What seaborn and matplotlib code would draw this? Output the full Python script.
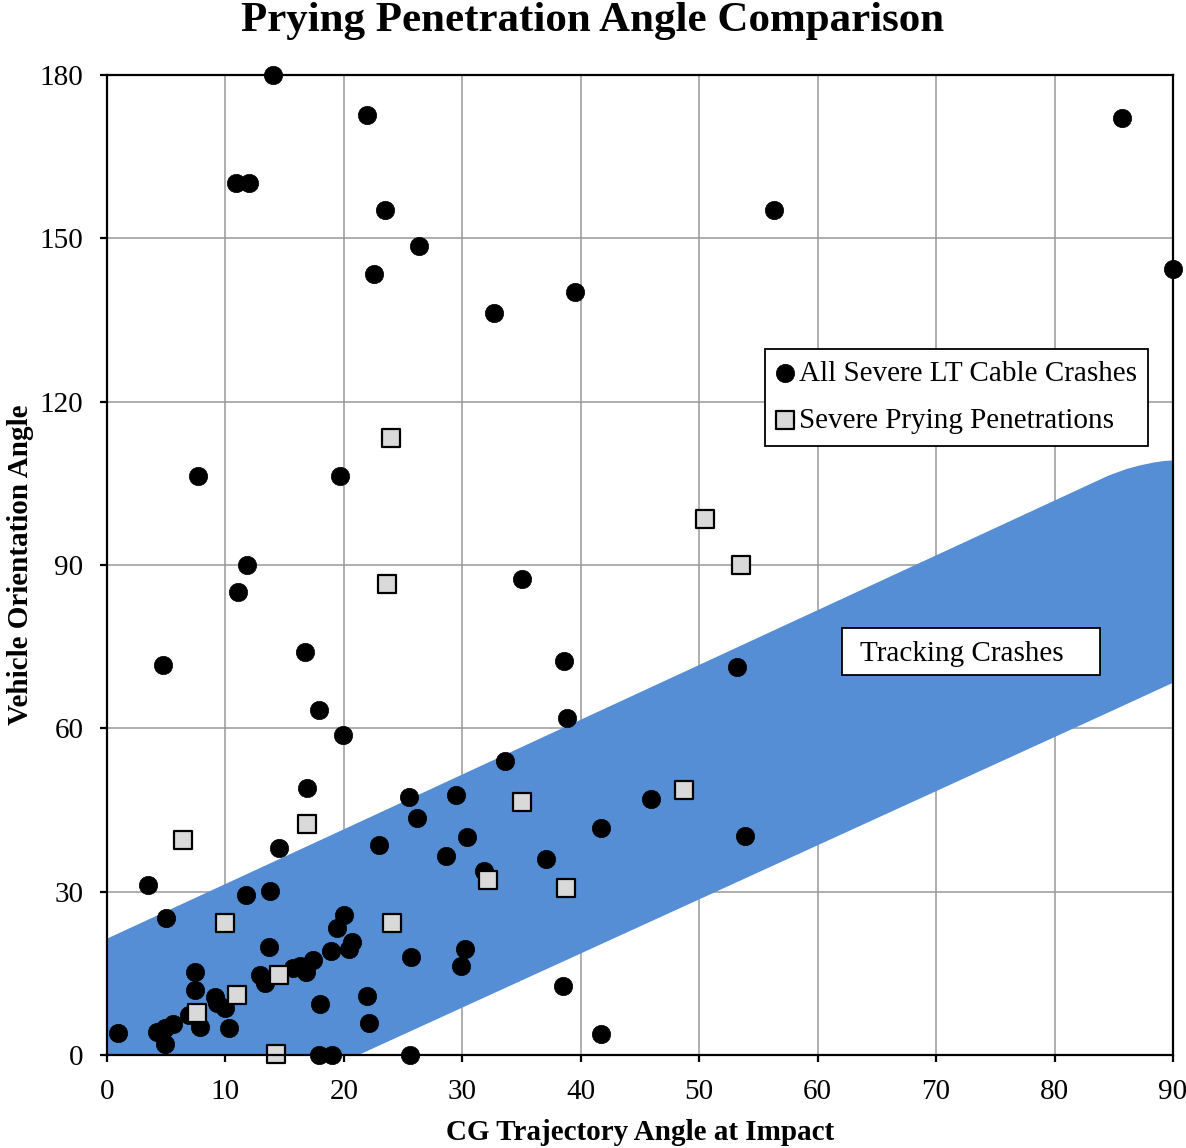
import matplotlib
matplotlib.use("Agg")
import matplotlib.pyplot as plt
import seaborn as sns
import pandas as pd
from matplotlib.patches import Rectangle

# ---------------- data ----------------
all_x = [14.0, 21.95, 85.7, 10.9, 12.0, 23.5, 56.3, 26.3, 22.5, 90.0, 39.5, 32.7,
         7.7, 19.7, 11.8, 11.1, 35.0, 4.7, 16.7, 38.6, 53.2, 17.9, 38.8, 19.9,
         33.6, 16.9, 25.5, 29.5, 45.9, 26.2, 41.7, 30.4, 53.9, 14.5, 23.0, 28.6,
         37.1, 31.8, 3.5, 13.8, 11.7, 5.0, 20.0, 19.4, 13.7, 20.7, 20.4, 30.2,
         18.9, 25.7, 17.4, 16.3, 15.7, 16.8, 29.9, 7.4, 7.4, 12.9, 13.3, 38.5,
         9.1, 9.25, 21.95, 18.0, 10.0, 6.9, 7.85, 10.3, 5.6, 4.9, 4.2, 0.95,
         4.9, 22.1, 41.7, 17.9, 19.0, 25.6]
all_y = [180.0, 172.7, 172.1, 160.2, 160.2, 155.2, 155.2, 148.6, 143.5, 144.4, 140.2, 136.3,
         106.4, 106.4, 90.0, 85.0, 87.4, 71.6, 74.0, 72.4, 71.3, 63.4, 61.9, 58.8,
         54.0, 49.0, 47.4, 47.8, 47.0, 43.5, 41.7, 40.0, 40.2, 38.0, 38.6, 36.6,
         36.0, 33.8, 31.2, 30.1, 29.4, 25.2, 25.7, 23.3, 19.8, 20.8, 19.5, 19.5,
         19.1, 18.0, 17.5, 16.4, 15.9, 15.3, 16.3, 15.2, 11.9, 14.7, 13.3, 12.7,
         10.7, 9.5, 10.8, 9.4, 8.6, 7.3, 5.2, 4.9, 5.7, 4.9, 4.3, 4.0,
         2.0, 5.9, 3.9, 0.0, 0.0, 0.0]

pry_x = [24.0, 50.5, 53.5, 23.6, 16.9, 6.4, 35.0, 48.7, 32.2, 38.75, 10.0, 24.1,
         14.5, 11.0, 7.6, 14.3]
pry_y = [113.3, 98.5, 90.0, 86.5, 42.4, 39.5, 46.5, 48.7, 32.1, 30.7, 24.2, 24.2,
         14.7, 11.0, 7.7, 0.2]

# tracking-crash band (upper and lower boundaries)
band_x = [0.0, 21.1, 84.5, 86.0, 87.2, 88.3, 89.2, 90.0]
band_lower = [0.0, 0.0, 63.0, 64.5, 65.7, 66.8, 67.7, 68.5]
band_upper = [21.5, 42.7, 106.5, 107.7, 108.4, 108.9, 109.2, 109.3]

x_ticks = [0, 10, 20, 30, 40, 50, 60, 70, 80, 90]
y_ticks = [0, 30, 60, 90, 120, 150, 180]

title = "Prying Penetration Angle Comparison"
x_label = "CG Trajectory Angle at Impact"
y_label = "Vehicle Orientation Angle"
series_all = "All Severe LT Cable Crashes"
series_pry = "Severe Prying Penetrations"
band_label = "Tracking Crashes"

# ---------------- style ----------------
sns.set_theme(style="white")
plt.rcParams["font.family"] = ["Liberation Serif", "DejaVu Serif"]
plt.rcParams["text.color"] = "black"
plt.rcParams["axes.labelcolor"] = "black"
plt.rcParams["xtick.color"] = "black"
plt.rcParams["ytick.color"] = "black"

fig = plt.figure(figsize=(11.86, 11.48), dpi=100)
ax = fig.add_axes([107 / 1186, 1 - 1055 / 1148, (1173 - 107) / 1186, (1055 - 75) / 1148])

ax.set_xlim(0, 90)
ax.set_ylim(0, 180)
ax.set_xticks(x_ticks)
ax.set_yticks(y_ticks)
ax.grid(True, color="#999999", linewidth=1.1, zorder=0)
ax.set_axisbelow(True)

ax.fill_between(band_x, band_lower, band_upper, color="#558ed5", linewidth=0, zorder=1)

df_all = pd.DataFrame({"x": all_x, "y": all_y})
df_pry = pd.DataFrame({"x": pry_x, "y": pry_y})

sns.scatterplot(data=df_all, x="x", y="y", ax=ax, marker="o", s=175,
                color="black", edgecolor="black", linewidth=0.5,
                label=series_all, zorder=3, clip_on=False)
sns.scatterplot(data=df_pry, x="x", y="y", ax=ax, marker="s", s=150,
                color="#d9d9d9", edgecolor="black", linewidth=1.6,
                label=series_pry, zorder=4, clip_on=False)

for sp in ax.spines.values():
    sp.set_color("black")
    sp.set_linewidth(1.6)
    sp.set_zorder(5)

ax.tick_params(axis="both", which="major", direction="out", length=5, width=1.6,
               color="black", labelsize=21, labelcolor="black")
ax.tick_params(axis="x", bottom=True, pad=12)
ax.tick_params(axis="y", left=True, pad=12)

ax.set_xlabel(x_label, fontsize=21, fontweight="bold", labelpad=10, color="black")
ax.set_ylabel(y_label, fontsize=21, fontweight="bold", labelpad=4, color="black")
fig.text(0.5, 1 - 2 / 1148, title, fontsize=31, fontweight="bold",
         ha="center", va="top", color="black")

leg = ax.legend(loc="upper left", bbox_to_anchor=((765 - 107) / 1066, (1055 - 349) / 980),
                fontsize=21, frameon=True, fancybox=False, framealpha=1,
                edgecolor="black", handlelength=0.6, handletextpad=0.15,
                borderpad=0.4, labelspacing=0.7, borderaxespad=0)
leg.get_frame().set_linewidth(1.3)
leg.set_zorder(6)
for t in leg.get_texts():
    t.set_color("black")

rect = Rectangle(((842 - 107) / 1066, (1055 - 675) / 980), (1100 - 842) / 1066, (675 - 628) / 980,
                 transform=ax.transAxes, facecolor="white", edgecolor="black",
                 linewidth=1.3, zorder=6)
ax.add_patch(rect)
ax.text((860 - 107) / 1066, (1055 - 654) / 980, band_label, transform=ax.transAxes,
        fontsize=21, ha="left", va="center", zorder=7, color="black")

fig.savefig("out.png", dpi=100)
